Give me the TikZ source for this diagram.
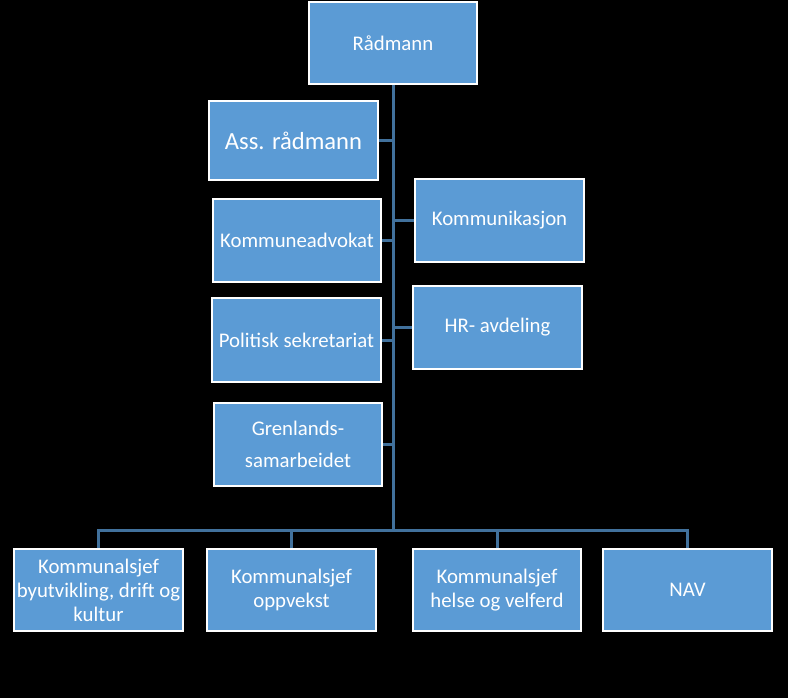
\documentclass[tikz,border=0pt]{standalone}
\usepackage{fontspec}
\setmainfont{Carlito}
\definecolor{boxblue}{HTML}{5B9BD5}
\definecolor{linkblue}{HTML}{41719C}
\begin{document}
\begin{tikzpicture}[x=1pt,y=-1pt,
  orgbox/.style={draw=white,line width=2pt,fill=boxblue,text=white,inner sep=0pt,
    align=center,font=\fontsize{20.8}{24}\selectfont,minimum width=169pt,minimum height=83pt},
  link/.style={draw=linkblue,line width=3pt}]
\fill[black] (0,0) rectangle (788,698);
\useasboundingbox (0,0) rectangle (788,698);
\node[orgbox,minimum width=168pt,minimum height=82pt] (rad) at (393,43) {Rådmann};
\node[orgbox,minimum height=79pt,font=\fontsize{24.6}{28}\selectfont] (ass) at (293.5,141) {Ass. rådmann};
\node[orgbox,minimum width=168pt] (kadv) at (297,240.5) {Kommuneadvokat};
\node[orgbox] (komm) at (499.5,220.5) {Kommunikasjon};
\node[orgbox] (hr) at (497.5,327.5) {HR- avdeling};
\node[orgbox,minimum height=84pt] (pol) at (296.5,340) {Politisk sekretariat};
\node[orgbox,minimum width=168pt,font=\fontsize{20.8}{32}\selectfont] (gren) at (298,444.5) {Grenlands-\\samarbeidet};
\node[orgbox,minimum height=82pt] (k1) at (98.5,590) {Kommunalsjef\\byutvikling, drift og\\kultur};
\node[orgbox,minimum height=82pt] (k2) at (291.5,590) {Kommunalsjef\\oppvekst};
\node[orgbox,minimum width=168pt,minimum height=82pt] (k3) at (497,590) {Kommunalsjef\\helse og velferd};
\node[orgbox,minimum height=82pt] (nav) at (687.5,590) {NAV};
\coordinate (bus) at (393,530);
\draw[link] (rad.south) -- (bus);
\draw[link] (ass.east) -- (ass.east -| bus);
\draw[link] (kadv.east) -- (kadv.east -| bus);
\draw[link] (pol.east) -- (pol.east -| bus);
\draw[link] (gren.east) -- (gren.east -| bus);
\draw[link] (komm.west) -- (komm.west -| bus);
\draw[link] (hr.west) -- (hr.west -| bus);
\draw[link] (k1.north) |- (bus) -| (nav.north);
\draw[link] (k2.north) -- (k2.north |- bus);
\draw[link] (k3.north) -- (k3.north |- bus);
\end{tikzpicture}
\end{document}
